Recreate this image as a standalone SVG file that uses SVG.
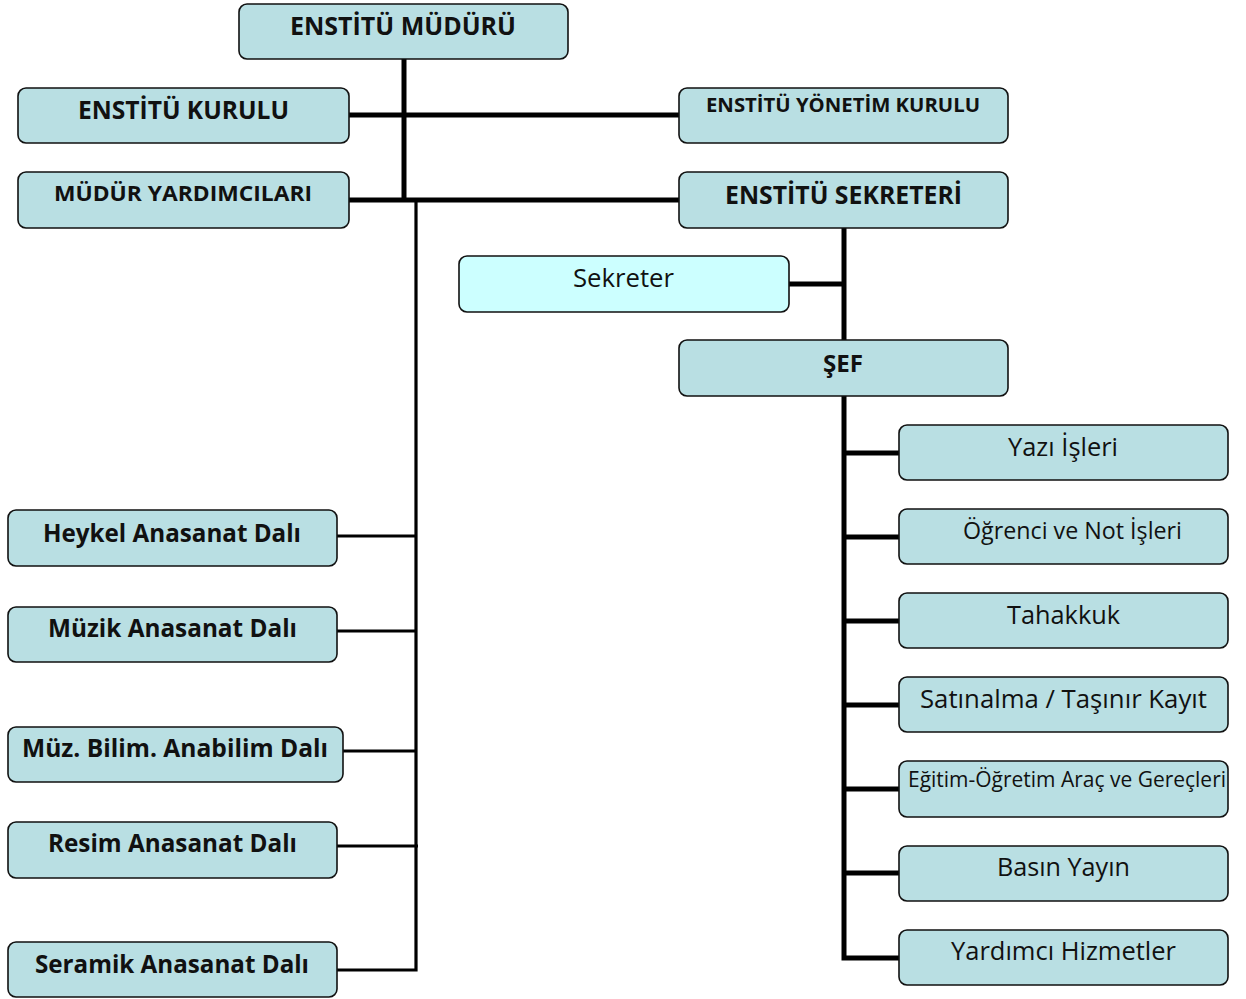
<svg xmlns="http://www.w3.org/2000/svg" width="1246" height="999" viewBox="0 0 1246 999">
<style>
.box{fill:#b9dfe3;stroke:#111;stroke-width:1.6}
.lt{fill:#ccffff;stroke:#111;stroke-width:1.6}
text{font-family:"Open Sans","Noto Sans","Liberation Sans",sans-serif;fill:#111}
.b{font-weight:bold}
.c{stroke:#000;fill:none}
.t5{stroke-width:5}
.t3{stroke-width:3.2}
</style>
<rect width="1246" height="999" fill="#fff"/>
<g id="connectors">
<line class="c t5" x1="404" y1="59" x2="404" y2="202"/>
<line class="c t5" x1="349" y1="115" x2="679" y2="115"/>
<line class="c t5" x1="349" y1="200" x2="679" y2="200"/>
<polyline class="c t3" points="416,200 416,970 337,970"/>
<line class="c t3" x1="337" y1="536" x2="416" y2="536"/>
<line class="c t3" x1="337" y1="631" x2="416" y2="631"/>
<line class="c t3" x1="343" y1="751" x2="416" y2="751"/>
<line class="c t3" x1="337" y1="846" x2="418" y2="846"/>
<polyline class="c t5" points="844,228 844,958 899,958"/>
<line class="c t5" x1="789" y1="284" x2="844" y2="284"/>
<line class="c t5" x1="844" y1="453" x2="899" y2="453"/>
<line class="c t5" x1="844" y1="537" x2="899" y2="537"/>
<line class="c t5" x1="844" y1="621" x2="899" y2="621"/>
<line class="c t5" x1="844" y1="705" x2="899" y2="705"/>
<line class="c t5" x1="844" y1="789" x2="899" y2="789"/>
<line class="c t5" x1="844" y1="873" x2="899" y2="873"/>
</g>
<g id="mudur"><rect class="box" x="239" y="4" width="329" height="55" rx="8"/><text class="b" x="290" y="35" font-size="25" textLength="226" lengthAdjust="spacingAndGlyphs">ENSTİTÜ MÜDÜRÜ</text></g>
<g id="kurul"><rect class="box" x="18" y="88" width="331" height="55" rx="8"/><text class="b" x="78" y="119" font-size="25" textLength="211" lengthAdjust="spacingAndGlyphs">ENSTİTÜ KURULU</text></g>
<g id="yardimci"><rect class="box" x="18" y="172" width="331" height="56" rx="8"/><text class="b" x="54" y="201" font-size="21" textLength="258" lengthAdjust="spacingAndGlyphs">MÜDÜR YARDIMCILARI</text></g>
<g id="yonetim"><rect class="box" x="679" y="88" width="329" height="55" rx="8"/><text class="b" x="706" y="112" font-size="20" textLength="274" lengthAdjust="spacingAndGlyphs">ENSTİTÜ YÖNETİM KURULU</text></g>
<g id="sekreteri"><rect class="box" x="679" y="172" width="329" height="56" rx="8"/><text class="b" x="725" y="204" font-size="25" textLength="237" lengthAdjust="spacingAndGlyphs">ENSTİTÜ SEKRETERİ</text></g>
<g id="sekreter"><rect class="lt" x="459" y="256" width="330" height="56" rx="8"/><text x="573" y="287" font-size="25" textLength="101" lengthAdjust="spacingAndGlyphs">Sekreter</text></g>
<g id="sef"><rect class="box" x="679" y="340" width="329" height="56" rx="8"/><text class="b" x="823" y="372" font-size="24" textLength="40" lengthAdjust="spacingAndGlyphs">ŞEF</text></g>
<g id="yazi"><rect class="box" x="899" y="425" width="329" height="55" rx="8"/><text x="1008" y="456" font-size="25" textLength="110" lengthAdjust="spacingAndGlyphs">Yazı İşleri</text></g>
<g id="ogrenci"><rect class="box" x="899" y="509" width="329" height="55" rx="8"/><text x="963" y="539" font-size="23" textLength="219" lengthAdjust="spacingAndGlyphs">Öğrenci ve Not İşleri</text></g>
<g id="tahakkuk"><rect class="box" x="899" y="593" width="329" height="55" rx="8"/><text x="1007" y="624" font-size="25" textLength="113" lengthAdjust="spacingAndGlyphs">Tahakkuk</text></g>
<g id="satinalma"><rect class="box" x="899" y="677" width="329" height="55" rx="8"/><text x="920" y="708" font-size="25" textLength="287" lengthAdjust="spacingAndGlyphs">Satınalma / Taşınır Kayıt</text></g>
<g id="egitim"><rect class="box" x="899" y="761" width="329" height="56" rx="8"/><text x="908" y="787" font-size="21" textLength="318" lengthAdjust="spacingAndGlyphs">Eğitim-Öğretim Araç ve Gereçleri</text></g>
<g id="basin"><rect class="box" x="899" y="846" width="329" height="55" rx="8"/><text x="997" y="876" font-size="25" textLength="133" lengthAdjust="spacingAndGlyphs">Basın Yayın</text></g>
<g id="hizmet"><rect class="box" x="899" y="930" width="329" height="55" rx="8"/><text x="951" y="960" font-size="25" textLength="225" lengthAdjust="spacingAndGlyphs">Yardımcı Hizmetler</text></g>
<g id="heykel"><rect class="box" x="8" y="510" width="329" height="56" rx="8"/><text class="b" x="43" y="542" font-size="25" textLength="258" lengthAdjust="spacingAndGlyphs">Heykel Anasanat Dalı</text></g>
<g id="muzik"><rect class="box" x="8" y="607" width="329" height="55" rx="8"/><text class="b" x="48" y="637" font-size="25" textLength="249" lengthAdjust="spacingAndGlyphs">Müzik Anasanat Dalı</text></g>
<g id="muzbilim"><rect class="box" x="8" y="727" width="335" height="55" rx="8"/><text class="b" x="22" y="757" font-size="25" textLength="306" lengthAdjust="spacingAndGlyphs">Müz. Bilim. Anabilim Dalı</text></g>
<g id="resim"><rect class="box" x="8" y="822" width="329" height="56" rx="8"/><text class="b" x="48" y="852" font-size="25" textLength="249" lengthAdjust="spacingAndGlyphs">Resim Anasanat Dalı</text></g>
<g id="seramik"><rect class="box" x="8" y="942" width="329" height="55" rx="8"/><text class="b" x="35" y="973" font-size="25" textLength="274" lengthAdjust="spacingAndGlyphs">Seramik Anasanat Dalı</text></g>
</svg>
